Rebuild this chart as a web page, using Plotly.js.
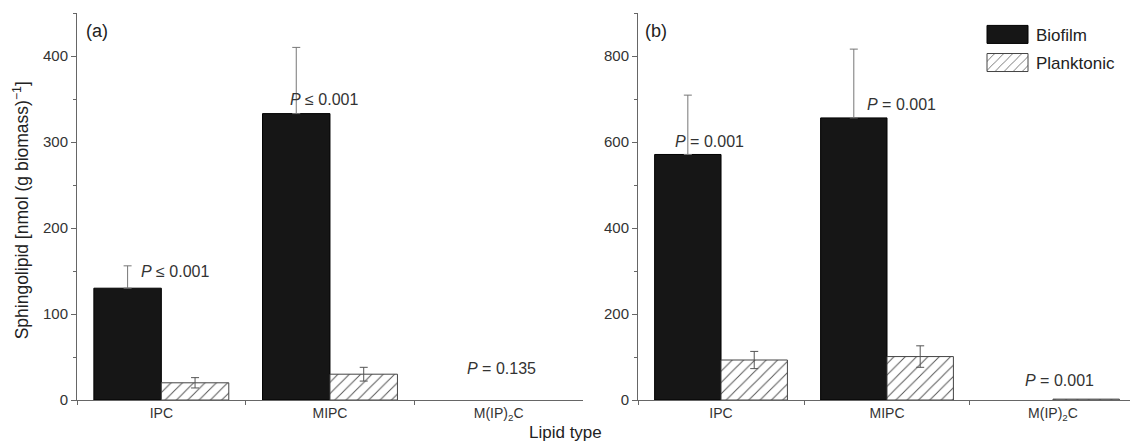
<!DOCTYPE html>
<html>
<head>
<meta charset="utf-8">
<script src="https://cdn.plot.ly/plotly-3.0.1.min.js"></script>
<style>html,body{margin:0;padding:0;background:#fff;}#chart{width:1130px;height:444px;}</style>
</head>
<body>
<div id="chart"></div>
<script>
// ---- data ----
const categories = ["IPC", "MIPC", "M(IP)<sub>2</sub>C"];
// panel (a)
const biofilmA = [130, 333, 0];
const biofilmAErr = [26, 77, NaN];
const planktonicA = [20, 30, 0];
const planktonicAErr = [6, 8, NaN];
// panel (b)
const biofilmB = [571, 656, 0];
const biofilmBErr = [138, 160, NaN];
const planktonicB = [93, 101, 2];
const planktonicBErr = [20, 25, NaN];
// p-value labels
const pLabelsA = ["<i>P</i> ≤ 0.001", "<i>P</i> ≤ 0.001", "<i>P</i> = 0.135"];
const pLabelsB = ["<i>P</i> = 0.001", "<i>P</i> = 0.001", "<i>P</i> = 0.001"];
const seriesNames = ["Biofilm", "Planktonic"];

const FONT = "Liberation Sans, Arial, sans-serif";
const txt = "#333";
const axisCol = "#666";

function outlineWidths(vals) { return vals.map(v => (v > 0 ? 1 : 0)); }

function biofilmTrace(y, err, xa, ya, show) {
  return {
    type: "bar", name: seriesNames[0], x: categories, y: y, xaxis: xa, yaxis: ya,
    showlegend: show, legendgroup: "bio",
    marker: {color: "#161616", line: {color: "#000", width: outlineWidths(y)}},
    error_y: {type: "data", array: err, arrayminus: err.map(e => (isNaN(e) ? NaN : 0)), symmetric: false, visible: true, color: "#777", thickness: 1, width: 4}
  };
}
function plankTrace(y, err, xa, ya, show) {
  return {
    type: "bar", name: seriesNames[1], x: categories, y: y, xaxis: xa, yaxis: ya,
    showlegend: show, legendgroup: "pl",
    marker: {color: "#fff", line: {color: "#444", width: outlineWidths(y)},
      pattern: {shape: "/", fgcolor: "#555", bgcolor: "#fff", size: 8, solidity: 0.12}},
    error_y: {type: "data", array: err, visible: true, color: "#555", thickness: 1, width: 4, symmetric: true}
  };
}

const data = [
  biofilmTrace(biofilmA, biofilmAErr, "x", "y", true),
  plankTrace(planktonicA, planktonicAErr, "x", "y", true),
  biofilmTrace(biofilmB, biofilmBErr, "x2", "y2", false),
  plankTrace(planktonicB, planktonicBErr, "x2", "y2", false)
];

const annPosA = [[-0.13, 150], [0.75, 350], [1.80, 37]];
const annPosB = [[-0.29, 602], [0.87, 688], [1.82, 46]];
const annotations = [];
pLabelsA.forEach((t, i) => annotations.push({xref: "x", yref: "y", x: annPosA[i][0], y: annPosA[i][1], text: t, showarrow: false, xanchor: "left", yanchor: "middle", font: {family: FONT, size: 16, color: txt}}));
pLabelsB.forEach((t, i) => annotations.push({xref: "x2", yref: "y2", x: annPosB[i][0], y: annPosB[i][1], text: t, showarrow: false, xanchor: "left", yanchor: "middle", font: {family: FONT, size: 16, color: txt}}));
annotations.push({xref: "paper", yref: "paper", x: 0.0085, y: 0.984, text: "(a)", showarrow: false, xanchor: "left", yanchor: "top", xshift: -2, font: {family: FONT, size: 18, color: "#222"}});
annotations.push({xref: "paper", yref: "paper", x: 0.539, y: 0.984, text: "(b)", showarrow: false, xanchor: "left", yanchor: "top", xshift: -2, font: {family: FONT, size: 18, color: "#222"}});
annotations.push({xref: "paper", yref: "paper", x: 0.464, y: -0.083, text: "Lipid type", showarrow: false, xanchor: "center", yanchor: "middle", font: {family: FONT, size: 17, color: "#222"}});
// y-axis title (as a rotated annotation so it can be centred like the reference)
annotations.push({xref: "paper", yref: "paper", x: -0.0532, y: 0.49, text: "Sphingolipid [nmol (g biomass)<sup>−1</sup>]", textangle: -90, showarrow: false, xanchor: "center", yanchor: "middle", font: {family: FONT, size: 17.5, color: "#222"}});

const xBase = {
  type: "category", showline: true, linecolor: axisCol, linewidth: 1, ticks: "outside", ticklen: 4,
  tickcolor: axisCol, tickson: "boundaries", showgrid: false, zeroline: false,
  tickfont: {family: FONT, size: 14, color: txt}
};
const yBase = {
  showline: true, linecolor: axisCol, linewidth: 1, ticks: "outside", ticklen: 5, tickcolor: axisCol,
  showgrid: false, zeroline: false, tickfont: {family: FONT, size: 15, color: txt}
};

const layout = {
  width: 1130, height: 444,
  margin: {l: 77, r: 0, t: 13, b: 44},
  paper_bgcolor: "#fff", plot_bgcolor: "#fff",
  barmode: "group", bargap: 0.2, bargroupgap: 0,
  font: {family: FONT, color: txt},
  xaxis: Object.assign({}, xBase, {domain: [0, 0.4805], range: [-0.5, 2.5], anchor: "y"}),
  yaxis: Object.assign({}, yBase, {range: [0, 450], dtick: 100, anchor: "x",
    minor: {dtick: 50, ticks: "outside", ticklen: 3, tickcolor: axisCol}}),
  xaxis2: Object.assign({}, xBase, {domain: [0.5328, 1], range: [-0.5, 2.464], anchor: "y2"}),
  yaxis2: Object.assign({}, yBase, {range: [0, 900], dtick: 200, anchor: "x2",
    minor: {dtick: 100, ticks: "outside", ticklen: 3, tickcolor: axisCol}}),
  legend: {x: 0.862, y: 0.99, xanchor: "left", yanchor: "top", bgcolor: "rgba(0,0,0,0)",
    font: {family: FONT, size: 17, color: "#222"}, tracegroupgap: 3, itemwidth: 30},
  annotations: annotations,
  showlegend: true
};

Plotly.newPlot("chart", data, layout, {displayModeBar: false, staticPlot: true}).then(function () {
  // enlarge legend swatches to match the reference's wide boxes, keep text just right of them
  const root = document.getElementById("chart").getBoundingClientRect();
  document.querySelectorAll(".legend [clip-path]").forEach(function (e) { e.removeAttribute("clip-path"); });
  document.querySelectorAll(".legend .traces").forEach(function (g) {
    const p = g.querySelector(".legendpoints path");
    const t = g.querySelector(".legendtext");
    if (!p || !t) return;
    p.setAttribute("d", "M6,9H-35V-9H6Z");
    const pr = p.getBoundingClientRect();
    const dxSw = 987 - (pr.left - root.left);
    const lp = g.querySelector(".legendpoints");
    lp.setAttribute("transform", "translate(" + dxSw + ",0)");
    const pr2 = p.getBoundingClientRect();
    const tr = t.getBoundingClientRect();
    const dx = (pr2.right + 8) - tr.left;
    t.setAttribute("transform", "translate(" + dx + ",0)");
  });
});
</script>
</body>
</html>
